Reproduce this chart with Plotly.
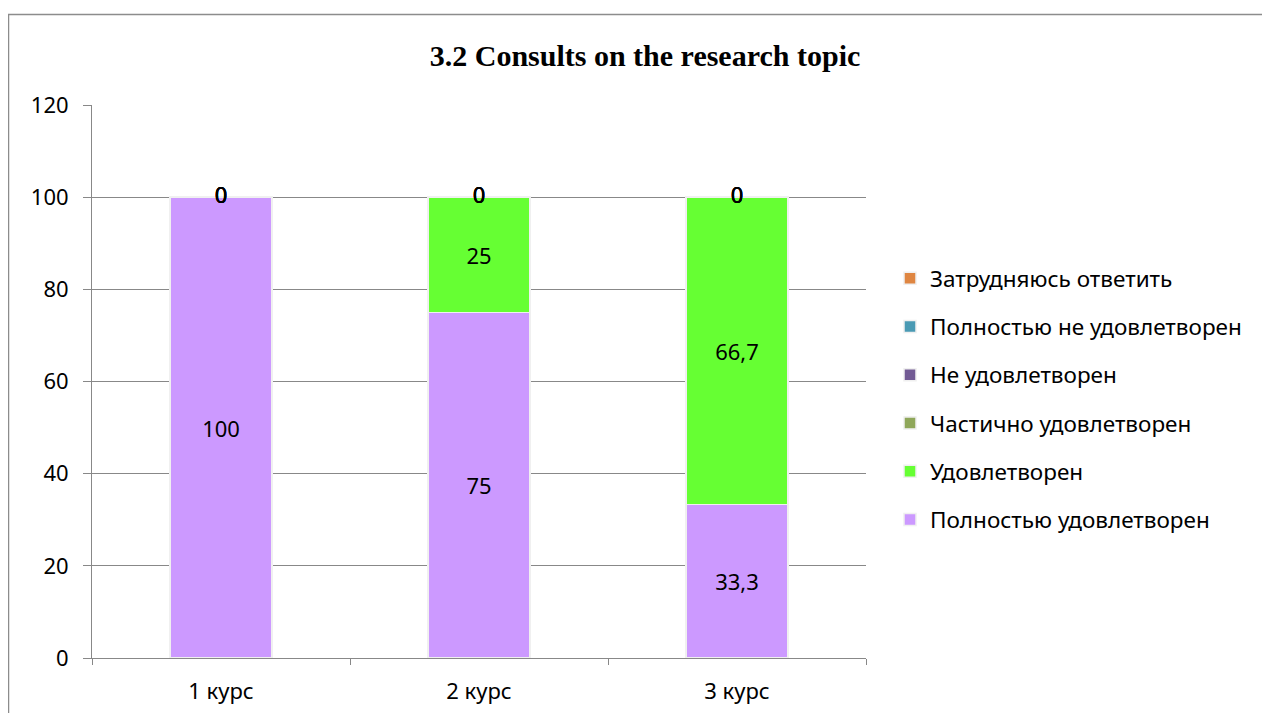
import plotly.graph_objects as go

categories = ["1 курс", "2 курс", "3 курс"]
series_names = [
    "Полностью удовлетворен",
    "Удовлетворен",
    "Частично удовлетворен",
    "Не удовлетворен",
    "Полностью не удовлетворен",
    "Затрудняюсь ответить",
]
polnostyu_udovl = [100, 75, 33.3]
udovl = [0, 25, 66.7]
chastichno = [0, 0, 0]
ne_udovl = [0, 0, 0]
polnostyu_ne = [0, 0, 0]
zatrudnyayus = [0, 0, 0]
series_values = [polnostyu_udovl, udovl, chastichno, ne_udovl, polnostyu_ne, zatrudnyayus]
colors = ["#CC99FF", "#66FF33", "#8FA75A", "#725A94", "#4A9AB4", "#DF8642"]

title_text = "3.2 Consults on the research topic"
y_ticks = [0, 20, 40, 60, 80, 100, 120]

FONT = "Noto Sans"
fs = 22

# page offset (body margin) -> work in page pixels, convert to figure pixels
OFF = 8
W, H = 1270 - OFF, 713 - OFF
L, R, T, B = 92 - OFF, 866 - OFF, 105 - OFF, 658 - OFF


def fmt(v):
    return ("%g" % v).replace(".", ",")


def px_to_paper_x(px):
    return (px - OFF - L) / (R - L)


def px_to_paper_y(py):
    return (B - (py - OFF)) / (B - T)


fig = go.Figure()
cum = [0.0] * len(categories)
zero_x, zero_y = [], []
n = len(series_names)
for k, (name, vals, col) in enumerate(zip(series_names, series_values, colors)):
    texts = [fmt(v) if v != 0 else "" for v in vals]
    fig.add_trace(go.Bar(
        name=name, x=categories, y=vals,
        marker=dict(color=col, line=dict(color="#F0F0F0", width=1.5)),
        text=texts, textposition="inside", insidetextanchor="middle", textangle=0,
        textfont=dict(family=FONT, size=fs, color="black"),
        legendgroup=name, legendrank=n - k, hoverinfo="skip",
    ))
    for i, v in enumerate(vals):
        cum[i] += v
        if v == 0:
            zero_x.append(categories[i])
            zero_y.append(cum[i])

fig.add_trace(go.Scatter(
    x=zero_x, y=zero_y, mode="text", text=["0"] * len(zero_x),
    textposition="middle center", textfont=dict(family=FONT, size=fs, color="black"),
    showlegend=False, hoverinfo="skip", cliponaxis=False,
))

fig.add_shape(type="rect", xref="paper", yref="paper",
              x0=px_to_paper_x(8.5), x1=px_to_paper_x(1300),
              y0=px_to_paper_y(740), y1=px_to_paper_y(14.5),
              line=dict(color="#8C8C8C", width=1.5), fillcolor="rgba(0,0,0,0)", layer="below")

fig.update_layout(
    width=W, height=H,
    margin=dict(l=L, r=W - R, t=T, b=H - B, pad=0, autoexpand=False),
    barmode="stack", bargap=0.605,
    paper_bgcolor="white", plot_bgcolor="white",
    font=dict(family=FONT, size=fs, color="black"),
    title=dict(text="<b>" + title_text + "</b>", x=(645 - OFF) / W, xref="container", xanchor="center",
               y=1 - (55 - OFF) / H, yref="container", yanchor="middle",
               font=dict(family="Liberation Serif", size=30, color="black")),
    legend=dict(x=px_to_paper_x(890), y=px_to_paper_y(257), xanchor="left", yanchor="top",
                traceorder="grouped", tracegroupgap=16,
                font=dict(family=FONT, size=22.5, color="black"), bgcolor="rgba(0,0,0,0)"),
    showlegend=True,
)
fig.update_xaxes(showline=True, linecolor="#888888", linewidth=1, ticks="outside", tickson="boundaries",
                 ticklen=6, tickcolor="#888888", showgrid=False, ticklabelstandoff=14, automargin=False,
                 tickfont=dict(family=FONT, size=fs, color="black"))
fig.update_yaxes(range=[0, 120], tickvals=y_ticks, showline=True, linecolor="#888888", linewidth=1,
                 ticks="outside", ticklen=8, tickcolor="#888888", showgrid=True, gridcolor="#888888",
                 gridwidth=1, zeroline=False, ticklabelstandoff=10, automargin=False,
                 tickfont=dict(family=FONT, size=fs, color="black"))

fig.write_html("out.html")
